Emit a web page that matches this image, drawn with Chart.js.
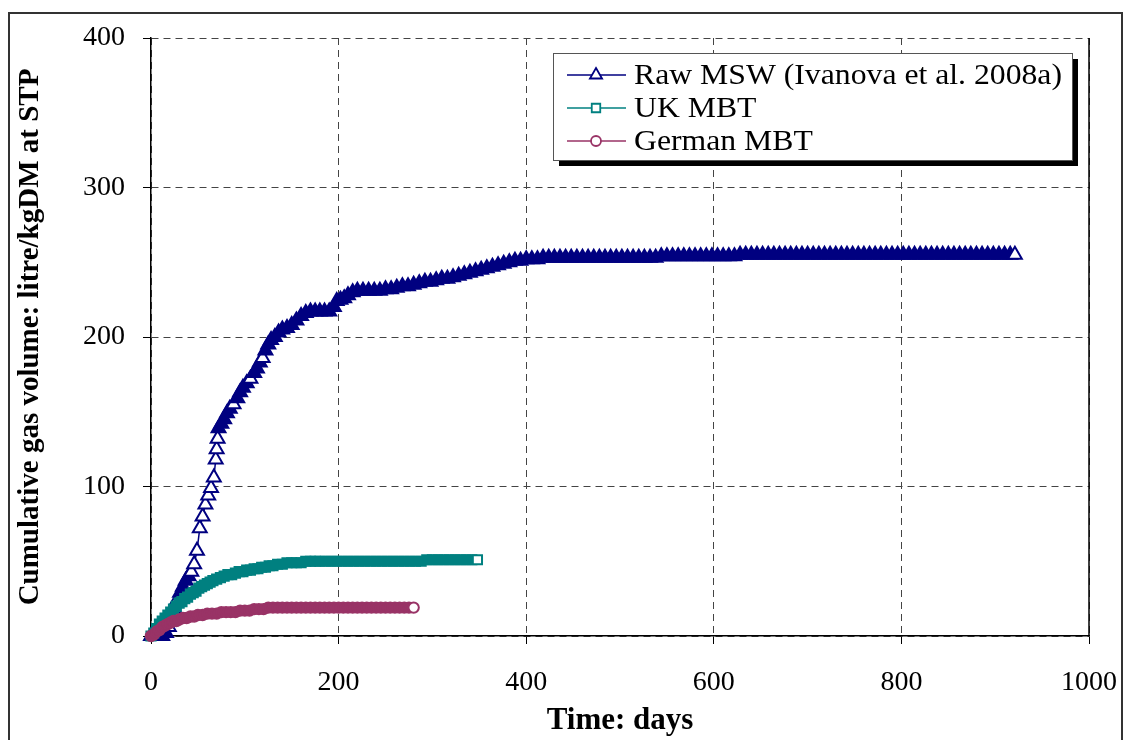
<!DOCTYPE html>
<html>
<head>
<meta charset="utf-8">
<script src="https://cdn.jsdelivr.net/npm/chart.js@4/dist/chart.umd.min.js"></script>
<style>
  html, body { margin: 0; padding: 0; background: #fff; }
  #wrap { width: 1129px; height: 740px; }
</style>
</head>
<body>
<div id="wrap"><canvas id="gasChart" width="1129" height="740"></canvas></div>
<script>
// Raw MSW (Ivanova et al. 2008a) - days and cumulative gas
var rawDays = [0, 4, 8, 12, 16, 19, 22, 25, 28, 31, 34, 37, 40, 43, 46, 49, 52, 55, 58, 61, 64, 67,
    69, 70, 71, 72, 75, 78, 81, 84, 88, 92, 95, 98, 102, 106, 110, 113, 116, 119, 122, 125, 128,
    132, 136, 140, 145, 150, 155, 160, 165, 170, 175, 180, 185, 190, 195, 198, 202, 206, 210, 215,
    220, 226, 232, 238, 244, 250, 256, 262, 268, 274, 280, 286, 292, 298, 304, 310, 316, 322, 328,
    334, 340, 346, 352, 358, 364, 370, 376, 382, 388, 394, 400,
    406, 412, 418, 424, 430, 436, 442, 448, 454, 460, 466, 472, 478, 484, 490, 496, 502, 508, 514,
    520, 526, 532, 538,
    544, 550, 556, 562, 568, 574, 580, 586, 592, 598, 604, 610, 616, 622,
    628, 634, 640, 646, 652, 658, 664, 670, 676, 682, 688, 694, 700, 706, 712, 718, 724, 730, 736,
    742, 748, 754, 760, 766, 772, 778, 784, 790, 796, 802, 808, 814, 820, 826, 832, 838, 844, 850,
    856, 862, 868, 874, 880, 886, 892, 898, 904, 910, 916, 921];
var rawGas = [0, 0, 0, 0, 2, 6, 12, 18, 24, 29, 33, 37, 40, 43, 48, 57, 72, 80, 88, 94, 99, 106,
    118, 125, 132, 139, 142, 145, 149, 152, 155, 159, 163, 166, 169, 172, 176, 179, 183, 186, 191, 195, 198,
    200, 203, 205, 206, 208, 211, 214, 216, 217, 217, 217, 217, 217, 220, 224, 225, 226, 228, 230,
    231, 231, 231, 231, 231, 232, 232, 233, 234, 234, 235, 236, 237, 237, 238, 239, 239, 240, 241,
    242, 243, 244, 245, 246, 247, 248, 249, 250, 251, 251, 252,
    252, 252, 253, 253, 253, 253, 253, 253, 253, 253, 253, 253, 253, 253, 253, 253, 253, 253, 253,
    253, 253, 253, 253,
    254, 254, 254, 254, 254, 254, 254, 254, 254, 254, 254, 254, 254, 254,
    255, 255, 255, 255, 255, 255, 255, 255, 255, 255, 255, 255, 255, 255, 255, 255, 255, 255, 255,
    255, 255, 255, 255, 255, 255, 255, 255, 255, 255, 255, 255, 255, 255, 255, 255, 255, 255, 255,
    255, 255, 255, 255, 255, 255, 255, 255, 255, 255, 255, 255];

// UK MBT
var ukDays = [0, 3, 6, 9, 12, 15, 18, 21, 24, 27, 30, 33, 36, 39, 42, 45, 48, 51, 54, 57, 60, 63, 66,
    70, 74, 78, 82, 86, 90, 94, 98, 102, 106, 110, 114, 118, 122, 126, 130, 135, 140, 145, 150, 155,
    160, 165, 170, 175, 180, 186, 192, 198, 204, 210, 216, 222, 228, 234, 240, 246, 252, 258, 264,
    270, 276, 282, 288, 294, 300, 306, 312, 318, 324, 330, 336, 342, 348];
var ukGas = [0, 2, 5, 8, 10, 12, 14, 16, 18, 20, 22, 23, 25, 26, 28, 29, 30, 32, 33, 34, 35, 36, 37,
    38, 39, 40, 41, 41, 42, 43, 43, 44, 44, 45, 45, 46, 46, 47, 47, 48, 48, 49, 49, 49,
    49, 50, 50, 50, 50, 50, 50, 50, 50, 50, 50, 50, 50, 50, 50, 50, 50, 50, 50,
    50, 50, 50, 50, 51, 51, 51, 51, 51, 51, 51, 51, 51, 51];

// German MBT
var deDays = [0, 3, 6, 9, 12, 15, 18, 21, 24, 27, 30, 34, 38, 42, 46, 50, 55, 60, 65, 70, 75, 80,
    85, 90, 95, 100, 105, 110, 115, 120, 125, 130, 135, 140, 145, 150, 155, 160, 165, 170, 175, 180,
    185, 190, 195, 200, 205, 210, 215, 220, 225, 230, 235, 240, 245, 250, 255, 260, 265, 270, 275, 280];
var deGas = [0, 1, 3, 4, 6, 7, 8, 9, 10, 10, 11, 12, 12, 13, 13, 14, 14, 15, 15, 15, 16, 16,
    16, 16, 17, 17, 17, 18, 18, 18, 19, 19, 19, 19, 19, 19, 19, 19, 19, 19, 19, 19,
    19, 19, 19, 19, 19, 19, 19, 19, 19, 19, 19, 19, 19, 19, 19, 19, 19, 19, 19, 19];

var seriesNames = ["Raw MSW (Ivanova et al. 2008a)", "UK MBT", "German MBT"];
var seriesColors = ["#000080", "#008080", "#993366"];
var seriesMarkers = ["triangle", "rect", "circle"];
var markerRadius = [8, 6.5, 5.2];

var serif = "'Liberation Serif', 'Times New Roman', serif";

function toPoints(days, vals) {
    var pts = [];
    for (var i = 0; i < days.length; i++) {
        pts.push({ x: days[i], y: vals[i] });
    }
    return pts;
}

// Markers that sit on top of each other merge into a solid band, like in the original.
// Only a marker with no close neighbour after it keeps its white inside.
function markerFill(color) {
    return function(c) {
        var pts = c.dataset.data, i = c.dataIndex;
        if (i >= pts.length - 1) return "#ffffff";
        var xs = c.chart.scales.x, ys = c.chart.scales.y;
        var dx = xs.getPixelForValue(pts[i + 1].x) - xs.getPixelForValue(pts[i].x);
        var dy = ys.getPixelForValue(pts[i + 1].y) - ys.getPixelForValue(pts[i].y);
        return Math.sqrt(dx * dx + dy * dy) < 7 ? color : "#ffffff";
    };
}

function makeSet(i, days, vals) {
    return {
        label: seriesNames[i],
        data: toPoints(days, vals),
        borderColor: seriesColors[i],
        backgroundColor: "#ffffff",
        borderWidth: 1.5,
        pointStyle: seriesMarkers[i],
        pointRadius: markerRadius[i],
        pointBorderWidth: 2,
        pointBackgroundColor: markerFill(seriesColors[i]),
        pointBorderColor: seriesColors[i],
        showLine: true,
        tension: 0,
        clip: false,
        order: 3 - i
    };
}

// outer frame of the figure, right edge of the plot and the boxed legend
var frame = {
    id: "frame",
    beforeDraw: function(chart) {
        var ctx = chart.ctx;
        ctx.save();
        ctx.fillStyle = "#fff";
        ctx.fillRect(0, 0, chart.width, chart.height);
        ctx.strokeStyle = "#333";
        ctx.lineWidth = 2;
        ctx.strokeRect(9, 13, 1113, 740);
        ctx.restore();
    },
    afterDraw: function(chart) {
        var ctx = chart.ctx, area = chart.chartArea;
        ctx.save();
        ctx.strokeStyle = "#000";
        ctx.lineWidth = 1.5;
        ctx.beginPath();
        ctx.moveTo(area.right, area.top);
        ctx.lineTo(area.right, area.bottom);
        ctx.stroke();

        var x0 = area.right - 536, y0 = area.top + 15, w = 519, h = 107;
        ctx.fillStyle = "#000";
        ctx.fillRect(x0 + 6, y0 + 6, w, h);
        ctx.fillStyle = "#fff";
        ctx.fillRect(x0, y0, w, h);
        ctx.strokeStyle = "#555";
        ctx.lineWidth = 1;
        ctx.strokeRect(x0 + 0.5, y0 + 0.5, w, h);

        ctx.font = "29px " + serif;
        // the original legend type is a little wider than plain Times at this height
        var widest = ctx.measureText(seriesNames[0]).width;
        var stretch = 428 / widest;

        chart.data.datasets.forEach(function(ds, i) {
            var y = y0 + 22 + i * 33;
            ctx.strokeStyle = ds.borderColor;
            ctx.lineWidth = 1.5;
            ctx.beginPath();
            ctx.moveTo(x0 + 14, y);
            ctx.lineTo(x0 + 73, y);
            ctx.stroke();
            ctx.fillStyle = "#fff";
            ctx.lineWidth = 1.8;
            Chart.helpers.drawPoint(ctx, {
                pointStyle: ds.pointStyle,
                radius: i == 0 ? 7 : (i == 1 ? 6 : 5),
                borderWidth: 1.8,
                rotation: 0
            }, x0 + 43, y);

            ctx.save();
            ctx.translate(x0 + 81, y + 1);
            ctx.scale(stretch, 1);
            ctx.fillStyle = "#000";
            ctx.textBaseline = "middle";
            ctx.textAlign = "left";
            ctx.fillText(ds.label, 0, 0);
            ctx.restore();
        });
        ctx.restore();
    }
};

var ctx = document.getElementById("gasChart").getContext("2d");
var gasChart = new Chart(ctx, {
    type: "line",
    data: {
        datasets: [
            makeSet(0, rawDays, rawGas),
            makeSet(1, ukDays, ukGas),
            makeSet(2, deDays, deGas)
        ]
    },
    options: {
        responsive: false,
        animation: false,
        events: [],
        layout: { padding: { left: 0, right: 40, top: 38, bottom: 0 } },
        plugins: {
            legend: { display: false },
            tooltip: { enabled: false }
        },
        scales: {
            x: {
                type: "linear",
                min: 0,
                max: 1000,
                afterFit: function(scale) {
                    scale.height = 104;
                    scale.paddingLeft = 0;
                    scale.paddingRight = 0;
                },
                ticks: {
                    stepSize: 200,
                    color: "#000",
                    padding: 22,
                    maxRotation: 0,
                    font: { family: serif, size: 28 },
                    callback: function(v) { return String(v); }
                },
                grid: {
                    color: "#444",
                    lineWidth: 1,
                    tickLength: 8,
                    tickColor: "#000",
                    tickBorderDash: []
                },
                border: { display: true, color: "#000", width: 1.5, dash: [7, 5] },
                title: {
                    display: true,
                    text: "Time: days",
                    color: "#000",
                    font: { family: serif, size: 31, weight: "bold" },
                    padding: { top: 0, bottom: 0 }
                }
            },
            y: {
                min: 0,
                max: 400,
                afterFit: function(scale) {
                    scale.width = 151;
                    scale.paddingTop = 0;
                    scale.paddingBottom = 0;
                },
                ticks: {
                    stepSize: 100,
                    color: "#000",
                    padding: 18,
                    font: { family: serif, size: 28 },
                    callback: function(v) { return String(v); }
                },
                grid: {
                    color: "#444",
                    lineWidth: 1,
                    tickLength: 8,
                    tickColor: "#000",
                    tickBorderDash: []
                },
                border: { display: true, color: "#000", width: 1.5, dash: [7, 5] },
                title: {
                    display: true,
                    text: "Cumulative gas volume: litre/kgDM at STP",
                    color: "#000",
                    font: { family: serif, size: 29, weight: "bold" },
                    padding: { top: 13, bottom: 0 }
                }
            }
        }
    },
    plugins: [frame]
});
</script>
</body>
</html>
